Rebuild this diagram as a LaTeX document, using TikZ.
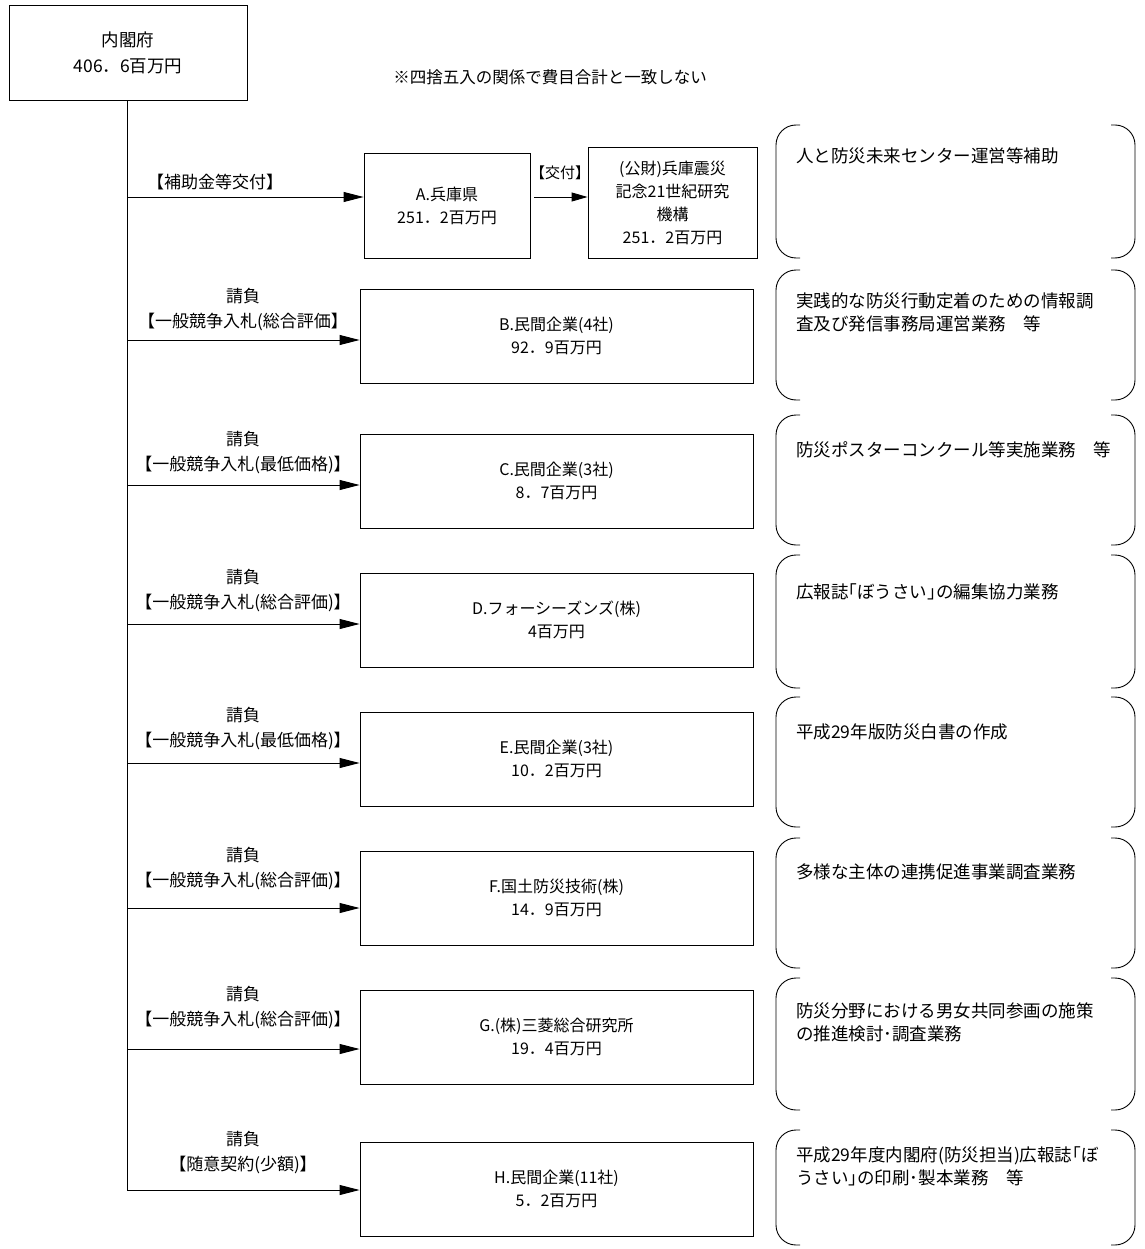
\documentclass[tikz,border=0pt]{standalone}
\usepackage{fontspec}
\setmainfont{Noto Sans CJK JP}
\usetikzlibrary{arrows.meta}
\begin{document}
\begin{tikzpicture}[x=1pt,y=-1pt,
  box/.style={draw=black, line width=0.9pt, align=center, inner sep=0pt, font=\fontsize{16}{23}\selectfont},
  rowbox/.style={box, minimum width=393pt, minimum height=94pt},
  lbl/.style={align=center, inner sep=0pt, font=\fontsize{17}{25}\selectfont},
  notetext/.style={align=left, anchor=north west, inner sep=0pt, font=\fontsize{17.5}{23}\selectfont},
  arr/.style={line width=0.9pt, -{Triangle[length=20pt,width=10pt]}},
  sarr/.style={line width=0.9pt, -{Triangle[length=16pt,width=9pt]}},
  ln/.style={line width=0.9pt},
  brk/.style={line width=0.9pt, rounded corners=20pt}]
\useasboundingbox (0,0) rectangle (1144,1249);

% top box
\node[box, minimum width=238pt, minimum height=95pt, font=\fontsize{17.5}{26}\selectfont] (top) at (128,53) {内閣府\\406．6百万円};
\node[inner sep=0pt, font=\fontsize{16.5}{20}\selectfont] (remark) at (550,77) {※四捨五入の関係で費目合計と一致しない};

% trunk
\coordinate (bA) at (127,197);
\coordinate (bB) at (127,340);
\coordinate (bC) at (127,485);
\coordinate (bD) at (127,624);
\coordinate (bE) at (127,763);
\coordinate (bF) at (127,908);
\coordinate (bG) at (127,1049);
\coordinate (bH) at (127,1190);
\draw[ln] (top.south -| bH) -- (bH);

% row A
\node[box, minimum width=166pt, minimum height=105pt] (A) at (447,205.5) {A.兵庫県\\251．2百万円};
\node[box, minimum width=169pt, minimum height=111pt] (A2) at (672.5,202.5) {(公財)兵庫震災\\記念21世紀研究\\機構\\251．2百万円};
\node[lbl] (lA) at (215,182) {【補助金等交付】};
\node[lbl, font=\fontsize{15}{20}\selectfont] (lA2) at (560,173) {【交付】};
\draw[arr] (bA) -- (bA -| A.west);
\coordinate (aA) at (A.east |- bA);
\draw[sarr] ([xshift=4pt]aA) -- (aA -| A2.west);

% rows B-H
\node[rowbox] (B) at (556.5,336) {B.民間企業(4社)\\92．9百万円};
\node[rowbox] (C) at (556.5,481) {C.民間企業(3社)\\8．7百万円};
\node[rowbox] (D) at (556.5,620) {D.フォーシーズンズ(株)\\4百万円};
\node[rowbox] (E) at (556.5,759) {E.民間企業(3社)\\10．2百万円};
\node[rowbox] (F) at (556.5,898) {F.国土防災技術(株)\\14．9百万円};
\node[rowbox] (G) at (556.5,1037) {G.(株)三菱総合研究所\\19．4百万円};
\node[rowbox] (H) at (556.5,1189) {H.民間企業(11社)\\5．2百万円};

\node[lbl] (lB) at (243,309.5) {請負\\【一般競争入札(総合評価】};
\node[lbl] (lC) at (243,452.5) {請負\\【一般競争入札(最低価格)】};
\node[lbl] (lD) at (243,591) {請負\\【一般競争入札(総合評価)】};
\node[lbl] (lE) at (243,728.5) {請負\\【一般競争入札(最低価格)】};
\node[lbl] (lF) at (243,869) {請負\\【一般競争入札(総合評価)】};
\node[lbl] (lG) at (243,1007.5) {請負\\【一般競争入札(総合評価)】};
\node[lbl] (lH) at (243,1152.5) {請負\\【随意契約(少額)】};

\foreach \r in {B,C,D,E,F,G,H}{
  \draw[arr] (b\r) -- (b\r -| \r.west);
}

% brackets
\foreach \t/\b in {125/258,270/400,415/545,555/688,697/827,838/968,978/1110,1130/1245}{
  \draw[brk] (800,\t) -- (776,\t) -- (776,\b) -- (800,\b);
  \draw[brk] (1111,\t) -- (1135,\t) -- (1135,\b) -- (1111,\b);
}
\node[notetext] (nA) at (796,148) {人と防災未来センター運営等補助};
\node[notetext] (nB) at (796,293) {実践的な防災行動定着のための情報調\\査及び発信事務局運営業務　等};
\node[notetext] (nC) at (796,441) {防災ポスターコンクール等実施業務　等};
\node[notetext] (nD) at (796,583) {広報誌｢ぼうさい｣の編集協力業務};
\node[notetext] (nE) at (796,724) {平成29年版防災白書の作成};
\node[notetext] (nF) at (796,864) {多様な主体の連携促進事業調査業務};
\node[notetext] (nG) at (796,1003) {防災分野における男女共同参画の施策\\の推進検討･調査業務};
\node[notetext] (nH) at (796,1146) {平成29年度内閣府(防災担当)広報誌｢ぼ\\うさい｣の印刷･製本業務　等};
\end{tikzpicture}
\end{document}
